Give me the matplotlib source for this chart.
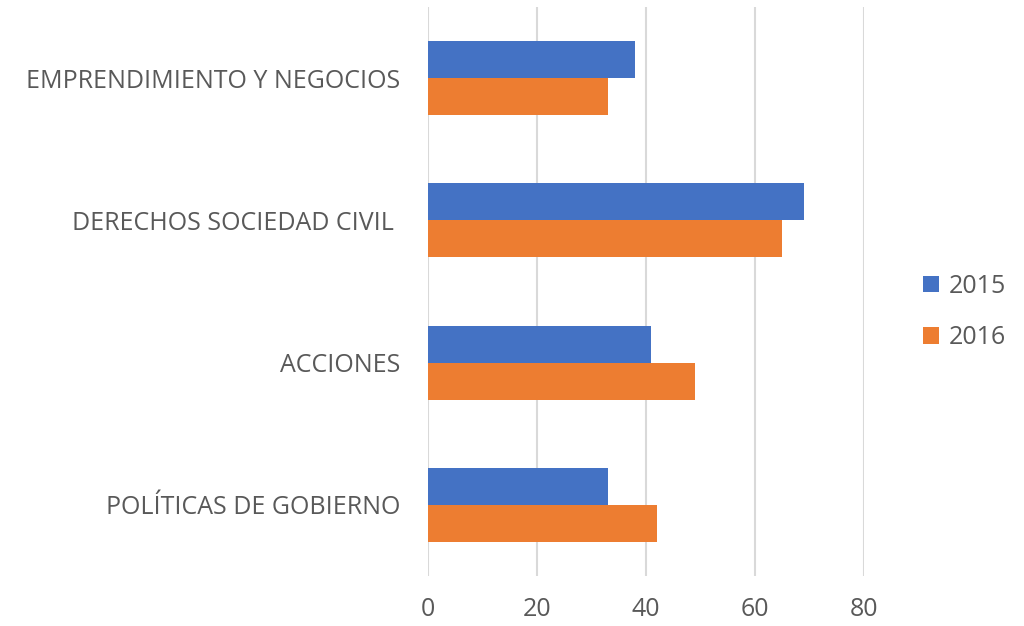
import matplotlib
matplotlib.use("Agg")
import matplotlib.pyplot as plt
import numpy as np

plt.rcParams['font.family'] = ['Open Sans', 'DejaVu Sans']

categories = ["POLÍTICAS DE GOBIERNO", "ACCIONES", "DERECHOS SOCIEDAD CIVIL ", "EMPRENDIMIENTO Y NEGOCIOS"]
vals_2015 = [33, 41, 69, 38]
vals_2016 = [42, 49, 65, 33]
series = ["2015", "2016"]
xticks = [0, 20, 40, 60, 80]

blue = "#4472C4"
orange = "#ED7D31"
gray = "#595959"

fig = plt.figure(figsize=(10.24, 6.26), dpi=100)
ax = fig.add_axes([428 / 1024, 1 - 576 / 626, 436 / 1024, 569 / 626])

y = np.arange(len(categories))
h = 0.26
ax.barh(y + h / 2, vals_2015, height=h, color=blue, label=series[0])
ax.barh(y - h / 2, vals_2016, height=h, color=orange, label=series[1])

ax.set_xlim(0, 80)
ax.set_ylim(-0.5, len(categories) - 0.5)
ax.set_xticks(xticks)
ax.set_xticklabels([str(t) for t in xticks])
ax.set_yticks(y)
ax.set_yticklabels(categories)
ax.tick_params(axis='both', length=0, labelsize=18, colors=gray)
ax.tick_params(axis='x', pad=15)
ax.tick_params(axis='y', pad=20)
ax.xaxis.grid(True, color="#D9D9D9", lw=1.5)
ax.set_axisbelow(True)
for s in ax.spines.values():
    s.set_visible(False)

handles, labels = ax.get_legend_handles_labels()
fig.legend(handles, labels, loc='center left', bbox_to_anchor=(900 / 1024, 1 - 312 / 626),
           frameon=False, fontsize=18, labelcolor=gray, handlelength=0.65, handleheight=0.65,
           handletextpad=0.4, labelspacing=1.05)

fig.savefig("out.png", dpi=100)
